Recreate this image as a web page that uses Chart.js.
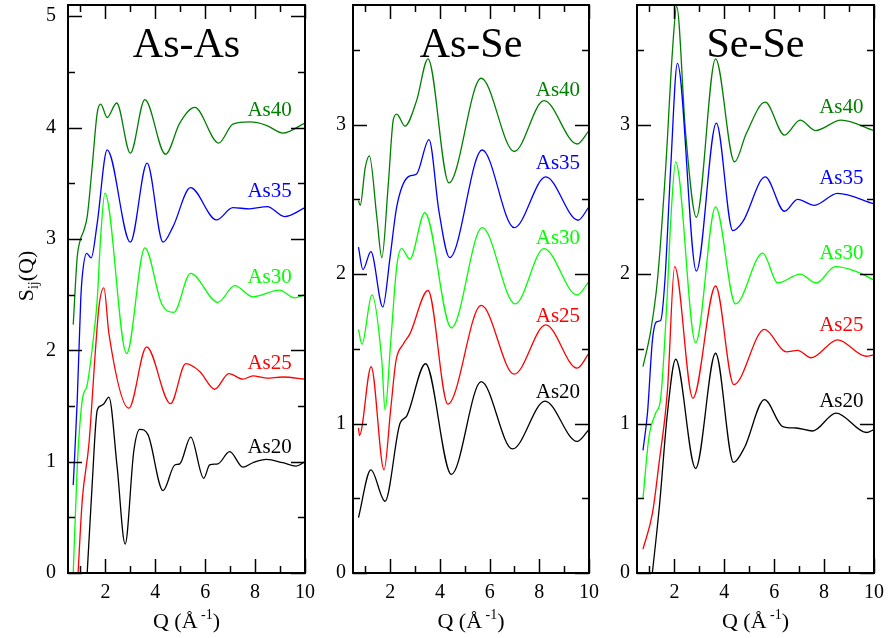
<!DOCTYPE html>
<html>
<head>
<meta charset="utf-8">
<script src="https://cdn.jsdelivr.net/npm/chart.js@4.4.1/dist/chart.umd.min.js"></script>
<style>
  html, body { margin: 0; padding: 0; background: #fff; }
  #wrap { position: relative; width: 888px; height: 638px; overflow: hidden; }
  canvas { position: absolute; top: 0; }
</style>
</head>
<body>
<div id="wrap">
  <canvas id="asAs" width="330" height="638" style="left:0"></canvas>
  <canvas id="asSe" width="300" height="638" style="left:310px"></canvas>
  <canvas id="seSe" width="293" height="638" style="left:595px"></canvas>
</div>
<script>
// ---- data: S_ij(Q) curves ----
const seriesNames = ['As20', 'As25', 'As30', 'As35', 'As40'];
const seriesColors = ['#000000', '#ff0000', '#00ff00', '#0000ff', '#008000'];

// As-As panel
const q_AsAs_As40 = [0.71,0.87,0.98,1.14,1.27,1.47,1.67,1.81,2.07,2.45,3.0,3.58,4.41,4.98,5.58,6.54,7.11,7.78,8.45,9.11,10];
const s_AsAs_As40 = [2.23,2.84,2.98,3.08,3.20,3.65,4.13,4.21,4.09,4.22,3.77,4.25,3.76,4.04,4.18,3.86,4.03,4.05,4.02,3.95,4.04];
const q_AsAs_As35 = [0.71,0.87,1.01,1.07,1.25,1.43,1.67,2.07,3.0,3.67,4.31,4.71,5.41,6.45,7.11,7.78,8.49,9.18,10];
const s_AsAs_As35 = [0.79,1.55,2.45,2.66,2.87,2.83,3.14,3.80,2.97,3.68,2.97,3.11,3.46,3.17,3.28,3.27,3.29,3.20,3.28];
const q_AsAs_As30 = [0.71,0.87,1.07,1.27,1.54,1.67,1.81,1.98,2.85,3.58,4.25,4.74,5.41,6.51,7.18,7.91,8.98,9.58,10];
const s_AsAs_As30 = [0.0,0.95,1.55,1.69,2.15,2.45,3.02,3.41,1.97,2.92,2.42,2.34,2.69,2.43,2.58,2.48,2.54,2.47,2.50];
const q_AsAs_As25 = [0.88,1.07,1.34,1.60,1.74,1.94,2.14,2.94,3.65,4.61,5.22,5.78,6.38,6.95,7.51,7.91,8.45,9.11,10];
const s_AsAs_As25 = [-0.1,0.65,1.16,2.0,2.39,2.56,2.15,1.48,2.03,1.52,1.88,1.81,1.65,1.79,1.74,1.77,1.75,1.76,1.74];
const q_AsAs_As20 = [1.22,1.47,1.67,1.81,1.94,2.14,2.47,2.79,3.14,3.38,3.71,4.31,4.78,4.98,5.42,5.94,6.18,6.51,6.98,7.51,7.91,8.45,9.11,9.64,10];
const s_AsAs_As20 = [-0.2,0.80,1.46,1.50,1.52,1.58,0.95,0.26,1.10,1.29,1.24,0.74,0.97,0.98,1.22,0.85,0.97,0.98,1.09,0.95,0.99,1.02,0.99,0.96,1.00];

// As-Se panel
const q_AsSe_As40 = [0.72,0.79,0.99,1.16,1.46,1.66,1.92,2.12,2.26,2.59,3.06,3.52,4.36,5.66,6.99,8.19,9.52,10];
const s_AsSe_As40 = [2.49,2.46,2.71,2.79,2.38,2.11,2.60,3.03,3.07,2.99,3.16,3.44,2.61,3.31,2.82,3.16,2.87,2.96];
const q_AsSe_As35 = [0.72,0.9,1.22,1.70,1.99,2.26,2.72,3.06,3.56,3.96,4.39,5.70,6.99,8.26,9.56,10];
const s_AsSe_As35 = [2.18,2.03,2.15,1.78,2.11,2.45,2.65,2.67,2.90,2.42,2.11,2.83,2.31,2.65,2.36,2.45];
const q_AsSe_As30 = [0.72,0.86,1.26,1.66,1.79,2.02,2.26,2.46,2.79,3.39,4.46,5.70,7.03,8.19,9.52,10];
const s_AsSe_As30 = [1.63,1.53,1.86,1.42,1.09,1.55,2.05,2.17,2.10,2.41,1.64,2.31,1.80,2.17,1.86,1.95];
const q_AsSe_As25 = [0.72,0.76,1.23,1.75,2.02,2.23,2.52,2.79,3.52,4.32,5.66,6.99,8.26,9.52,10];
const s_AsSe_As25 = [0.97,0.92,1.38,0.69,1.10,1.42,1.53,1.60,1.89,1.13,1.79,1.33,1.66,1.37,1.47];
const q_AsSe_As20 = [0.72,1.22,1.79,2.39,2.66,3.42,4.46,5.66,6.92,8.23,9.52,10];
const s_AsSe_As20 = [0.37,0.69,0.48,1.00,1.05,1.40,0.66,1.28,0.83,1.15,0.88,0.96];

// Se-Se panel
const q_SeSe_As40 = [0.74,1.05,1.32,1.65,1.92,2.09,2.45,2.88,3.65,4.41,4.88,5.64,6.41,7.04,7.65,8.68,10];
const s_SeSe_As40 = [1.38,1.62,1.96,2.71,3.49,3.79,2.94,2.38,3.44,2.75,2.94,3.15,2.93,3.03,2.96,3.03,2.96];
const q_SeSe_As35 = [0.74,0.92,1.12,1.28,1.45,1.62,1.85,2.12,2.88,3.68,4.34,4.74,5.64,6.41,6.94,7.61,8.54,10];
const s_SeSe_As35 = [0.82,1.07,1.56,1.68,1.69,1.96,2.71,3.41,2.02,3.01,2.29,2.35,2.65,2.42,2.50,2.46,2.54,2.47];
const q_SeSe_As30 = [0.74,0.98,1.25,1.45,1.70,1.85,2.05,2.85,3.65,4.45,5.54,6.14,7.04,7.68,8.45,9.25,10];
const s_SeSe_As30 = [0.50,0.91,1.07,1.17,1.82,2.35,2.75,1.54,2.45,1.80,2.14,1.94,2.00,1.94,2.05,2.02,1.96];
const q_SeSe_As25 = [0.74,1.12,1.38,1.72,2.01,2.74,3.65,4.38,5.61,6.48,6.94,7.48,8.54,9.68,10];
const s_SeSe_As25 = [0.16,0.40,0.73,1.22,2.05,1.17,1.92,1.26,1.63,1.48,1.49,1.44,1.56,1.45,1.46];
const q_SeSe_As20 = [1.05,1.40,1.72,2.05,2.85,3.65,4.37,4.81,5.61,6.34,6.88,7.54,8.48,9.70,10];
const s_SeSe_As20 = [-0.1,0.45,1.07,1.43,0.70,1.47,0.74,0.84,1.16,0.98,0.97,0.95,1.07,0.94,0.96];

// tick values
const xMajorTicks = [2, 4, 6, 8, 10];
const xMinorTicks = [1, 3, 5, 7, 9];
const yTicksAsAs = [0, 1, 2, 3, 4, 5];
const yTicksOther = [0, 1, 2, 3];

// curve label anchors (data coords, order As40..As20 top to bottom)
const labelOrder = ['As40', 'As35', 'As30', 'As25', 'As20'];
const labelQ_AsAs = 8.58, labelS_AsAs = [4.10, 3.38, 2.60, 1.83, 1.08];
const labelQ_AsSe = 8.75, labelS_AsSe = [3.19, 2.70, 2.20, 1.68, 1.17];
const labelQ_SeSe = 8.69, labelS_SeSe = [3.08, 2.60, 2.10, 1.62, 1.11];

const SERIF = '"Liberation Serif", "Times New Roman", serif';

const toPoints = (q, s) => q.map((x, i) => ({x, y: s[i]}));

const makeDatasets = (qs, ss) => seriesNames.map((name, i) => ({
  label: name,
  data: toPoints(qs[i], ss[i]),
  borderColor: seriesColors[i],
  borderWidth: 1.3,
  pointRadius: 0,
  fill: false,
  cubicInterpolationMode: 'monotone'
}));

// frame, inward ticks, panel title, curve labels, axis titles
const framePlugin = {
  id: 'frame',
  afterDraw(chart, args, opts) {
    const {ctx, chartArea: a, scales: {x, y}} = chart;
    ctx.save();
    ctx.strokeStyle = '#000';
    ctx.lineWidth = 1.5;
    const seg = (x1, y1, x2, y2) => { ctx.beginPath(); ctx.moveTo(x1, y1); ctx.lineTo(x2, y2); ctx.stroke(); };

    xMajorTicks.concat(xMinorTicks).forEach(q => {
      const px = Math.round(x.getPixelForValue(q)) + 0.5;
      const len = xMajorTicks.includes(q) ? 14 : 7;
      seg(px, a.bottom, px, a.bottom - len);
      seg(px, a.top, px, a.top + len);
    });
    for (let v = 0; v <= y.max + 1e-6; v += 0.5) {
      const py = Math.round(y.getPixelForValue(v)) + 0.5;
      const len = Number.isInteger(v) ? 14 : 7;
      seg(a.left, py, a.left + len, py);
      seg(a.right, py, a.right - len, py);
    }
    ctx.lineWidth = 2;
    ctx.strokeRect(a.left, a.top, a.right - a.left, a.bottom - a.top);

    // panel title
    ctx.fillStyle = '#000';
    ctx.textAlign = 'center';
    ctx.textBaseline = 'alphabetic';
    ctx.font = '42px ' + SERIF;
    ctx.fillText(opts.title, (a.left + a.right) / 2, a.top + 52);

    // curve labels
    ctx.font = '21px ' + SERIF;
    labelOrder.forEach((name, i) => {
      ctx.fillStyle = seriesColors[seriesNames.indexOf(name)];
      ctx.fillText(name, x.getPixelForValue(opts.labelQ), y.getPixelForValue(opts.labelS[i]));
    });

    // x axis title: Q (Å^-1)
    ctx.fillStyle = '#000';
    ctx.textAlign = 'left';
    const big = '22px ' + SERIF, small = '14px ' + SERIF;
    ctx.font = big;
    const w1 = ctx.measureText('Q (Å').width;
    const w3 = ctx.measureText(')').width;
    ctx.font = small;
    const w2 = ctx.measureText(' -1').width;
    let tx = (a.left + a.right) / 2 - (w1 + w2 + w3) / 2;
    const ty = a.bottom + 55;
    ctx.font = big; ctx.fillText('Q (Å', tx, ty); tx += w1;
    ctx.font = small; ctx.fillText(' -1', tx, ty - 9); tx += w2;
    ctx.font = big; ctx.fillText(')', tx, ty);

    // y axis title, first panel only
    if (opts.yTitle) {
      ctx.save();
      ctx.translate(33, 276);
      ctx.rotate(-Math.PI / 2);
      ctx.font = big;
      const sw = ctx.measureText('S').width;
      ctx.font = small;
      const iw = ctx.measureText('ij').width;
      ctx.font = big;
      const qw = ctx.measureText('(Q)').width;
      let sx = -(sw + iw + qw) / 2;
      ctx.fillText('S', sx, 0); sx += sw;
      ctx.font = small; ctx.fillText('ij', sx, 5); sx += iw;
      ctx.font = big; ctx.fillText('(Q)', sx, 0);
      ctx.restore();
    }
    ctx.restore();
  }
};

const noOverflow = s => { s.paddingLeft = 0; s.paddingRight = 0; s.paddingTop = 0; s.paddingBottom = 0; };

const makePanel = (id, cfg) => new Chart(document.getElementById(id), {
  type: 'line',
  data: { datasets: makeDatasets(cfg.qs, cfg.ss) },
  options: {
    responsive: false,
    animation: false,
    layout: { padding: { top: 5, right: cfg.padRight, left: 0, bottom: 0 } },
    plugins: {
      legend: { display: false },
      tooltip: { enabled: false },
      frame: { title: cfg.title, labelQ: cfg.labelQ, labelS: cfg.labelS, yTitle: cfg.yTitle }
    },
    scales: {
      x: {
        type: 'linear',
        min: 0.5,
        max: 10,
        grid: { display: false, drawTicks: false },
        border: { display: false },
        afterBuildTicks: s => { s.ticks = xMajorTicks.map(v => ({value: v})); },
        afterFit: s => { s.height = 65; noOverflow(s); },
        ticks: { color: '#000', font: { family: SERIF, size: 20 }, padding: 8, maxRotation: 0, autoSkip: false }
      },
      y: {
        type: 'linear',
        min: 0,
        max: cfg.yMax,
        grid: { display: false, drawTicks: false },
        border: { display: false },
        afterBuildTicks: s => { s.ticks = cfg.yTicks.map(v => ({value: v})); },
        afterFit: s => { s.width = cfg.axisWidth; noOverflow(s); },
        ticks: { color: '#000', font: { family: SERIF, size: 20 }, padding: cfg.tickPad }
      }
    }
  },
  plugins: [framePlugin]
});

makePanel('asAs', {
  title: 'As-As', yTitle: true,
  qs: [q_AsAs_As20, q_AsAs_As25, q_AsAs_As30, q_AsAs_As35, q_AsAs_As40],
  ss: [s_AsAs_As20, s_AsAs_As25, s_AsAs_As30, s_AsAs_As35, s_AsAs_As40],
  yMax: 5.1, yTicks: yTicksAsAs, axisWidth: 68, padRight: 25, tickPad: 12,
  labelQ: labelQ_AsAs, labelS: labelS_AsAs
});
makePanel('asSe', {
  title: 'As-Se', yTitle: false,
  qs: [q_AsSe_As20, q_AsSe_As25, q_AsSe_As30, q_AsSe_As35, q_AsSe_As40],
  ss: [s_AsSe_As20, s_AsSe_As25, s_AsSe_As30, s_AsSe_As35, s_AsSe_As40],
  yMax: 3.8, yTicks: yTicksOther, axisWidth: 43, padRight: 21, tickPad: 7,
  labelQ: labelQ_AsSe, labelS: labelS_AsSe
});
makePanel('seSe', {
  title: 'Se-Se', yTitle: false,
  qs: [q_SeSe_As20, q_SeSe_As25, q_SeSe_As30, q_SeSe_As35, q_SeSe_As40],
  ss: [s_SeSe_As20, s_SeSe_As25, s_SeSe_As30, s_SeSe_As35, s_SeSe_As40],
  yMax: 3.8, yTicks: yTicksOther, axisWidth: 42, padRight: 14, tickPad: 7,
  labelQ: labelQ_SeSe, labelS: labelS_SeSe
});
</script>
</body>
</html>
